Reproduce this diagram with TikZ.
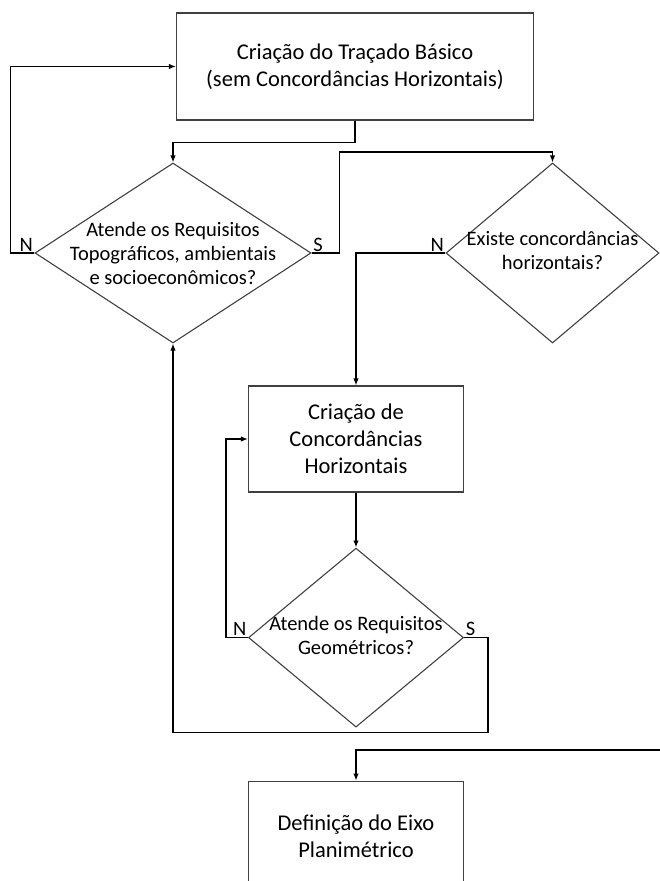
\documentclass[tikz,border=0pt]{standalone}
\usepackage{fontspec}
\setmainfont{Carlito}
\usepackage{tikz}
\usetikzlibrary{arrows.meta}
\usetikzlibrary{positioning}
\usetikzlibrary{shapes.geometric}

\newcommand{\lowered}[1]{\raisebox{-7pt}{\begin{tabular}{@{}c@{}}#1\end{tabular}}}

\begin{document}
\begin{tikzpicture}[
        x=1pt, y=-1pt,
        font=\fontsize{20.5}{24}\selectfont,
        node distance=55pt,
        procbox/.style={
            draw=black!75,
            line width=1.1pt,
            align=center,
            font=\fontsize{22.5}{27}\selectfont,
            inner sep=4pt
        },
        decision/.style={
            draw=black!75,
            line width=1.1pt,
            diamond,
            aspect=1.5,
            align=center,
            inner sep=-14pt
        },
        yesno/.style={inner sep=1.5pt},
        arrow/.style={-{Latex[length=7pt,width=5.5pt]}, line width=1.6pt}
    ]
        \useasboundingbox (0,0) rectangle (660,881);
        \clip (0,0) rectangle (660,881);

        \node[procbox, minimum width=357pt, minimum height=107pt] (basic) at (355,66.5) {Criação do Traçado Básico\\(sem Concordâncias Horizontais)};

        \node[decision, minimum width=276pt, minimum height=180pt] (req1) at (173,253) {Atende os Requisitos\\Topográficos, ambientais\\e socioeconômicos?};
        \node[decision, minimum width=213pt, minimum height=180pt] (exist) at (552.5,253) {\lowered{Existe concordâncias\\horizontais?}};

        \node[procbox, minimum width=215pt, minimum height=106pt] (horiz) at (356,439) {Criação de\\Concordâncias\\Horizontais};

        \node[decision, minimum width=215pt, minimum height=179pt, below=55pt of horiz] (req2) {\lowered{Atende os Requisitos\\Geométricos?}};

        \node[procbox, minimum width=215pt, minimum height=110pt, below=53pt of req2] (eixo) {Definição do Eixo\\Planimétrico};

        \coordinate (sim) at (662,750);

        % labels
        \node[yesno, anchor=south east] at (req1.west) {N};
        \node[yesno, anchor=south west] at (req1.east) {S};
        \node[yesno, anchor=south east] at (exist.west) {N};
        \node[yesno, anchor=south east] at (req2.west) {N};
        \node[yesno, anchor=south west] at (req2.east) {S};

        \draw[arrow] (basic.south) -- ++(0,22) -| (req1.north);
        \draw[arrow] (req1.west) -- ++(-24,0) |- (basic.west);
        \draw[arrow] (req1.east) -- ++(28,0) -- ++(0,-101) -| (exist.north);
        \draw[arrow] (exist.west) -| (horiz.north);
        \draw[arrow] (horiz) -- (req2);
        \draw[arrow] (req2.west) -- ++(-22,0) |- (horiz.west);
        \draw[arrow] (req2.east) -- ++(24,0) -- ++(0,95) -| (req1.south);
        \draw[arrow] (sim) -| (eixo.north);
    \end{tikzpicture}
\end{document}
